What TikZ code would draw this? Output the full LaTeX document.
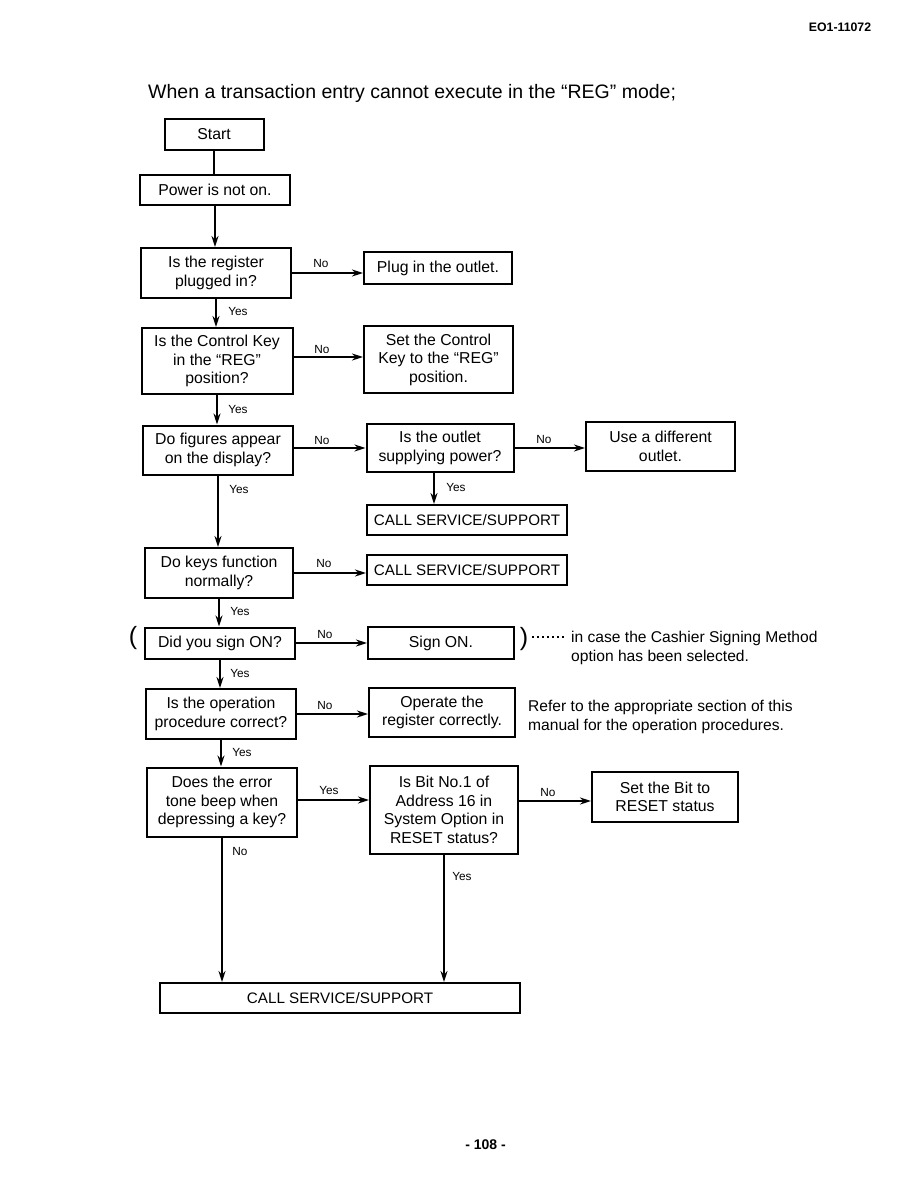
\documentclass[tikz,border=0pt]{standalone}
\usepackage{fontspec}
\setmainfont{Liberation Sans}
\usetikzlibrary{arrows.meta}
\begin{document}
\begin{tikzpicture}[x=1pt,y=-1pt,
 box/.style={draw,line width=2pt,inner sep=0pt,align=center,font=\fontsize{15.8}{18.5}\selectfont},
 callbox/.style={box,font=\fontsize{15.2}{18.5}\selectfont},
 lab/.style={inner sep=0pt,font=\fontsize{11.8}{13}\selectfont},
 side/.style={inner sep=0pt,anchor=west,align=left,font=\fontsize{15.6}{19}\selectfont},
 arr/.style={line width=1.8pt,-{Stealth[length=11pt,width=7pt]}},
 ln/.style={line width=1.8pt}]
\useasboundingbox (0,0) rectangle (918,1188);
\fill[white] (0,0) rectangle (918,1188);

\node[inner sep=0pt,font=\bfseries\fontsize{12.3}{14}\selectfont] (hdr) at (840,27) {EO1-11072};
\node[inner sep=0pt,anchor=west,font=\fontsize{19.5}{22}\selectfont] (title) at (148,93) {When a transaction entry cannot execute in the “REG” mode;};

\node[box,minimum width=99,minimum height=31] (start) at (214,134.5) {Start};
\node[box,minimum width=150,minimum height=30] (power) at (215,190) {Power is not on.};
\node[box,minimum width=150,minimum height=50] (reg) at (216,273) {Is the register\\plugged in?};
\node[box,minimum width=148,minimum height=32] (plug) at (438,268) {Plug in the outlet.};
\node[box,minimum width=151,minimum height=66] (ctrl) at (217,361) {Is the Control Key\\in the “REG”\\position?};
\node[box,minimum width=149,minimum height=67] (setkey) at (438.5,359.5) {Set the Control\\Key to the “REG”\\position.};
\node[box,minimum width=150,minimum height=49] (fig) at (218,450) {Do figures appear\\on the display?};
\node[box,minimum width=147,minimum height=48] (outlet) at (440,448) {Is the outlet\\supplying power?};
\node[box,minimum width=149,minimum height=49] (diff) at (660.5,446.5) {Use a different\\outlet.};
\node[callbox,minimum width=200,minimum height=30] (call1) at (467,520) {CALL SERVICE/SUPPORT};
\node[box,minimum width=148,minimum height=50] (keys) at (219,573) {Do keys function\\normally?};
\node[callbox,minimum width=200,minimum height=30] (call2) at (467,570) {CALL SERVICE/SUPPORT};
\node[box,minimum width=150,minimum height=31] (sign) at (220,643) {Did you sign ON?};
\node[box,minimum width=146,minimum height=32] (signon) at (441,643) {Sign ON.};
\node[box,minimum width=150,minimum height=50] (oper) at (221,714) {Is the operation\\procedure correct?};
\node[box,minimum width=146,minimum height=49] (operate) at (442,712.5) {Operate the\\register correctly.};
\node[box,minimum width=150,minimum height=69] (err) at (222,802) {Does the error\\tone beep when\\depressing a key?};
\node[box,minimum width=148,minimum height=88] (bit) at (444,810) {Is Bit No.1 of\\Address 16 in\\System Option in\\RESET status?};
\node[box,minimum width=146,minimum height=50] (setbit) at (665,797) {Set the Bit to\\RESET status};
\node[callbox,minimum width=360,minimum height=30] (call3) at (340,998) {CALL SERVICE/SUPPORT};

\node[inner sep=0pt,font=\fontsize{25}{25}\selectfont] (lp) at (133,638) {(};
\node[inner sep=0pt,font=\fontsize{25}{25}\selectfont] (rp) at (524,639) {)};
\node[side] (note) at (571,647.5) {in case the Cashier Signing Method\\option has been selected.};
\node[side] (refer) at (528,716.5) {Refer to the appropriate section of this\\manual for the operation procedures.};
\draw[line width=1.4pt,dash pattern=on 1.2pt off 3.8pt] ([xshift=4pt,yshift=2pt]rp.east) -- ([xshift=-4pt,yshift=2pt]rp.east -| note.west);

\draw[ln] (start.south) -- (start.south |- power.north);
\draw[arr] (power.south) -- (power.south |- reg.north);
\draw[arr] (reg.east) -- (reg.east -| plug.west);
\draw[arr] (reg.south) -- (reg.south |- ctrl.north);
\draw[arr] ([yshift=4pt]ctrl.east) -- ([yshift=4pt]ctrl.east -| setkey.west);
\draw[arr] (ctrl.south) -- (ctrl.south |- fig.north);
\draw[arr] ([yshift=2pt]fig.east) -- ([yshift=2pt]fig.east -| outlet.west);
\draw[arr] (outlet.east) -- (outlet.east -| diff.west);
\draw[arr] ([xshift=-6pt]outlet.south) -- ([xshift=-6pt]outlet.south |- call1.north);
\draw[arr] (fig.south) -- (fig.south |- keys.north);
\draw[arr] (keys.east) -- (keys.east -| call2.west);
\draw[arr] (keys.south) -- (keys.south |- sign.north);
\draw[arr] (sign.east) -- (sign.east -| signon.west);
\draw[arr] (sign.south) -- (sign.south |- oper.north);
\draw[arr] (oper.east) -- (oper.east -| operate.west);
\draw[arr] (oper.south) -- (oper.south |- err.north);
\draw[arr] ([yshift=2pt]err.east) -- ([yshift=2pt]err.east -| bit.west);
\draw[arr] ([yshift=9pt]bit.east) -- ([yshift=9pt]bit.east -| setbit.west);
\draw[arr] (err.south) -- (err.south |- call3.north);
\draw[arr] (bit.south) -- (bit.south |- call3.north);

\node[lab] at (321,263) {No};
\node[lab] at (238,311) {Yes};
\node[lab] at (322,349) {No};
\node[lab] at (238,409) {Yes};
\node[lab] at (322,440) {No};
\node[lab] at (544,439) {No};
\node[lab] at (456,487) {Yes};
\node[lab] at (239,489) {Yes};
\node[lab] at (324,563) {No};
\node[lab] at (240,611) {Yes};
\node[lab] at (325,634) {No};
\node[lab] at (240,673) {Yes};
\node[lab] at (325,705) {No};
\node[lab] at (242,752) {Yes};
\node[lab] at (329,790) {Yes};
\node[lab] at (548,792) {No};
\node[lab] at (240,851) {No};
\node[lab] at (462,876) {Yes};

\node[inner sep=0pt,font=\bfseries\fontsize{14}{16}\selectfont] (page) at (485.5,1145) {- 108 -};
\end{tikzpicture}
\end{document}
